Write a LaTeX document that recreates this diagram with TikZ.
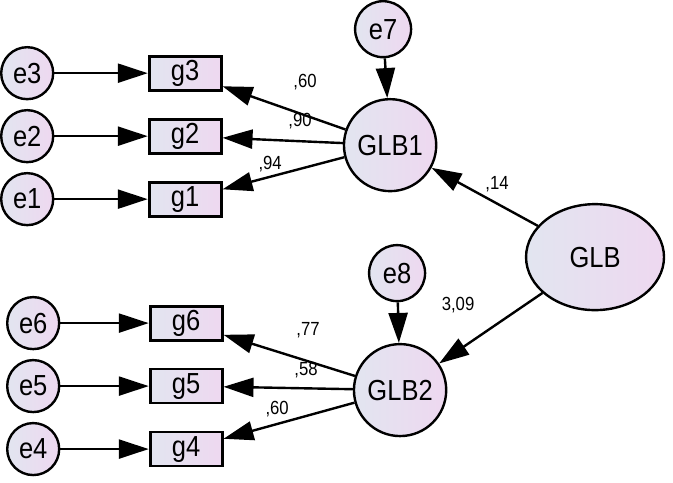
\documentclass[tikz,border=0pt]{standalone}
\usepackage{fontspec}
\setmainfont[FakeStretch=0.88]{Liberation Sans}
\usetikzlibrary{shapes.geometric,arrows.meta}
\definecolor{fillA}{RGB}{226,229,240}
\definecolor{fillB}{RGB}{238,216,240}
\begin{document}
\begin{tikzpicture}[x=1pt,y={(0,-1pt)},
  err/.style={circle,draw,line width=2.4pt,minimum size=52pt,inner sep=0pt,left color=fillA,right color=fillB,font=\fontsize{29}{29}\selectfont},
  obs/.style={rectangle,draw,line width=2.8pt,minimum width=72pt,minimum height=34pt,inner sep=0pt,left color=fillA,right color=fillB,font=\fontsize{29}{29}\selectfont},
  lat/.style={ellipse,draw,line width=2.4pt,inner sep=0pt,left color=fillA,right color=fillB,font=\fontsize{29}{29}\selectfont},
  coef/.style={font=\fontsize{19}{19}\selectfont,inner sep=0pt},
  path/.style={line width=2.4pt,-{Triangle[length=30pt,width=19pt]}}]
\path (0,0) rectangle (673,480);
% upper block
\node[err] (e3) at (27,71) {e3};
\node[err] (e2) at (27,134) {e2};
\node[err] (e1) at (27,197) {e1};
\node[obs] (g3) at (185,71) {g3};
\node[obs] (g2) at (185,134) {g2};
\node[obs] (g1) at (185,197) {g1};
\node[err,minimum size=56pt] (e7) at (383,27) {e7};
\node[lat,minimum width=76pt,minimum height=92pt] (GLB1) at (390,143) {GLB1};
% lower block
\node[err] (e6) at (33,321) {e6};
\node[err] (e5) at (33,384) {e5};
\node[err] (e4) at (33,447) {e4};
\node[obs] (g6) at (186,321) {g6};
\node[obs] (g5) at (186,384) {g5};
\node[obs] (g4) at (186,447) {g4};
\node[err,minimum size=56pt] (e8) at (397,271) {e8};
\node[lat,minimum width=76pt,minimum height=92pt] (GLB2) at (400,388) {GLB2};
% second order
\node[lat,minimum width=138pt,minimum height=106pt] (GLB) at (595,255) {GLB};
\draw[path] (e3) -- (g3);
\draw[path] (e2) -- (g2);
\draw[path] (e1) -- (g1);
\draw[path] (e6) -- (g6);
\draw[path] (e5) -- (g5);
\draw[path] (e4) -- (g4);
\draw[path] (e7) -- (GLB1);
\draw[path] (e8) -- (GLB2);
\draw[path] (GLB1) -- (g3);
\draw[path] (GLB1) -- (g2);
\draw[path] (GLB1) -- (g1);
\draw[path] (GLB2) -- (g6);
\draw[path] (GLB2) -- (g5);
\draw[path] (GLB2) -- (g4);
\draw[path] (GLB) -- (GLB1);
\draw[path] (GLB) -- (GLB2);
\node[coef] (c60a) at (305,80) {,60};
\node[coef] (c90) at (300,119) {,90};
\node[coef] (c94) at (270,162) {,94};
\node[coef] (c14) at (497,182) {,14};
\node[coef] (c309) at (458,303) {3,09};
\node[coef] (c77) at (308,328) {,77};
\node[coef] (c58) at (306,368) {,58};
\node[coef] (c60b) at (277,407) {,60};
\end{tikzpicture}
\end{document}
